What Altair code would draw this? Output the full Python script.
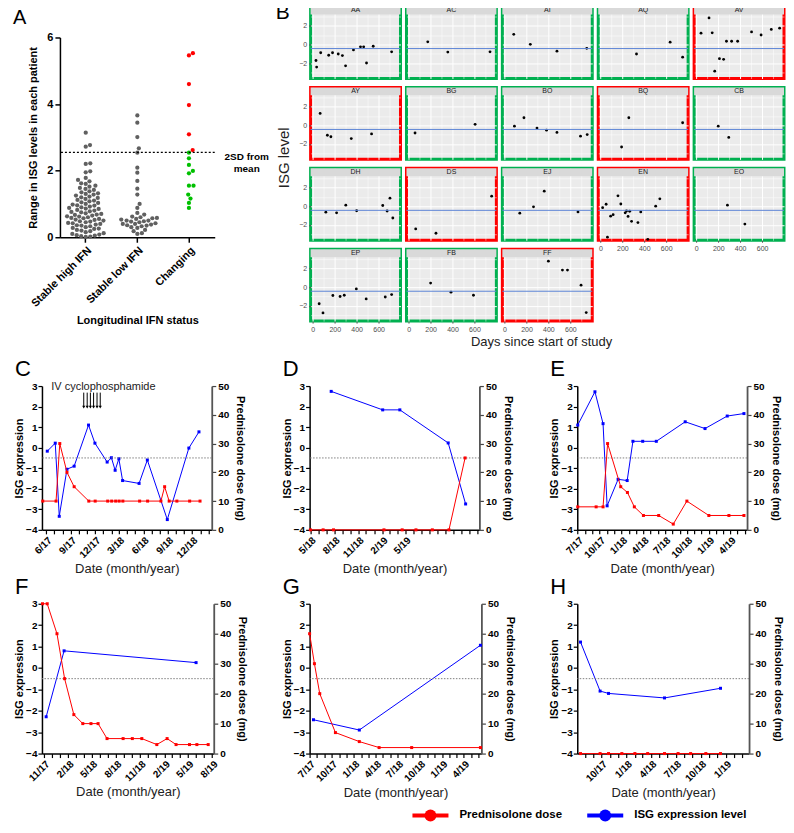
import altair as alt
import pandas as pd

FONT = "Liberation Sans"

# ---------------- Panel A data ----------------
A_groups = ["Stable high IFN", "Stable low IFN", "Changing"]
A_high = [3.14, 2.77, 2.72, 2.22, 2.2, 1.98, 1.95, 1.78, 1.72, 1.68, 1.62, 1.6, 1.55, 1.52,
          1.48, 1.45, 1.42, 1.38, 1.35, 1.32, 1.3, 1.28, 1.25, 1.22, 1.2, 1.18, 1.15, 1.12,
          1.1, 1.08, 1.05, 1.03, 1.0, 0.98, 0.96, 0.95, 0.92, 0.9, 0.88, 0.86, 0.85, 0.82,
          0.8, 0.78, 0.76, 0.75, 0.72, 0.7, 0.68, 0.67, 0.65, 0.63, 0.62, 0.6, 0.58, 0.57,
          0.55, 0.53, 0.52, 0.5, 0.48, 0.47, 0.45, 0.43, 0.42, 0.4, 0.38, 0.36, 0.35, 0.33,
          0.3, 0.28, 0.26, 0.25, 0.22, 0.2, 0.18, 0.15, 0.12, 0.1, 0.08, 0.06, 0.05, 0.03,
          0.02, 0.01]
A_low = [3.66, 3.44, 3.01, 2.67, 2.54, 2.09, 1.94, 1.69, 1.46, 1.28, 1.0, 0.88, 0.73,
         0.68, 0.62, 0.6, 0.58, 0.57, 0.55, 0.53, 0.5, 0.5, 0.48, 0.47, 0.45, 0.42, 0.4,
         0.4, 0.38, 0.36, 0.35, 0.33, 0.3, 0.28, 0.22, 0.18, 0.12, 0.1]
A_change_red = [5.53, 5.46, 4.6, 3.97, 3.09, 2.62]
A_change_green = [2.54, 2.37, 2.17, 1.99, 1.92, 1.55, 1.55, 1.28, 1.16, 1.03, 0.88]
A_sd2 = 2.55
A_sd2_label = "2SD from\nmean"

# ---------------- Panel B data ----------------
AA_days = [29, 35, 72, 145, 180, 232, 270, 299, 371, 435, 464, 490, 551, 719]
AA_isg = [-1.73, -2.43, -0.9, -1.17, -0.9, -1.03, -1.2, -2.3, -0.6, -0.27, -0.27, -2.0, -0.2, -0.8]
AC_days = [174, 357, 742]
AC_isg = [0.27, -0.83, -0.8]
AI_days = [84, 235, 478, 750]
AI_isg = [1.07, 0.0, -0.73, -0.43]
AQ_days = [329, 636, 750]
AQ_isg = [-1.03, 0.23, -1.37]
AV_days = [43, 116, 145, 168, 211, 249, 275, 322, 377, 504, 591, 684, 760]
AV_isg = [1.2, 2.83, 1.23, -2.87, -1.53, -1.6, 0.33, 0.33, 0.33, 1.33, 1.0, 1.6, 1.73]
AY_days = [67, 133, 165, 351, 536]
AY_isg = [1.27, -1.07, -1.23, -1.43, -0.93]
BG_days = [58, 606]
BG_isg = [-0.83, 0.1]
BO_days = [90, 177, 296, 383, 478, 693, 754]
BO_isg = [-0.1, 0.8, -0.3, -0.53, -0.77, -1.17, -1.0]
BQ_days = [193, 259, 750]
BQ_isg = [-2.33, 0.8, 0.27]
CB_days = [200, 296]
CB_isg = [-0.1, -1.3]
DH_days = [119, 217, 301, 400, 638, 678, 704, 730]
DH_isg = [-0.65, -0.72, 0.1, -0.49, 0.07, -0.52, 0.85, -1.27]
DS_days = [64, 249, 757]
DS_isg = [-2.44, -2.9, 1.07]
EJ_days = [139, 264, 362, 670]
EJ_isg = [-0.75, -0.07, 1.6, -0.62]
EN_days = [20, 52, 64, 93, 116, 160, 186, 226, 238, 252, 267, 284, 342, 368, 432, 504, 542]
EN_isg = [-0.16, 0.2, -3.32, -1.07, -0.91, 1.1, 0.23, -0.72, -0.52, -1.1, -0.55, -1.63,
          -1.76, -0.62, -3.55, 0.0, 0.78]
EO_days = [284, 443]
EO_isg = [0.1, -1.92]
EP_days = [58, 93, 183, 249, 287, 397, 487, 661, 719]
EP_isg = [-1.79, -2.77, -0.91, -1.01, -0.88, -0.2, -1.27, -1.07, -0.81]
FB_days = [200, 386, 591]
FB_isg = [0.42, -0.55, -0.88]
FF_days = [400, 528, 574, 698, 745]
FF_isg = [2.77, 1.82, 1.82, 0.2, -2.74]
B_changing = ["AV", "AY", "BQ", "DS", "EN", "FF"]
B_columns = [["AA", "AY", "DH", "EP"], ["AC", "BG", "DS", "FB"], ["AI", "BO", "EJ", "FF"],
             ["AQ", "BQ", "EN"], ["AV", "CB", "EO"]]
B_ref = -0.45

# ---------------- Panels C-H data ----------------
C_isg_dates = ["2017-06-05", "2017-07-05", "2017-07-20", "2017-08-18", "2017-09-14", "2017-11-07",
               "2017-12-01", "2018-01-16", "2018-02-01", "2018-02-15", "2018-03-01", "2018-03-15",
               "2018-05-16", "2018-06-16", "2018-08-30", "2018-11-19", "2018-12-27"]
C_isg = [-0.17, 0.22, -3.34, -1.05, -0.9, 1.1, 0.22, -0.7, -0.49, -1.1, -0.54, -1.6, -1.74,
         -0.6, -3.5, -0.02, 0.77]
C_pred_dates = ["2017-05-19", "2017-07-08", "2017-07-22", "2017-08-18", "2017-09-14", "2017-11-08",
                "2017-12-02", "2018-01-18", "2018-02-02", "2018-02-17", "2018-03-02", "2018-03-16",
                "2018-05-18", "2018-06-17", "2018-08-06", "2018-08-20", "2018-09-06", "2018-10-05",
                "2018-11-22", "2018-12-31"]
C_pred = [10, 10, 30, 20, 15, 10, 10, 10, 10, 10, 10, 10, 10, 10, 10, 15, 10, 10, 10, 10]
C_domain = ["2017-05-16", "2019-02-13"]
C_labels = ["6/17", "9/17", "12/17", "3/18", "6/18", "9/18", "12/18"]
C_cyclo_dates = ["2017-10-20", "2017-11-02", "2017-11-14", "2017-11-26", "2017-12-09", "2017-12-21"]
C_cyclo_label = ["IV cyclophosphamide"]
C_cyclo_label_date = ["2018-01-02"]

D_isg_dates = ["2018-07-20", "2019-02-03", "2019-04-10", "2019-10-13", "2019-12-19"]
D_isg = [2.74, 1.84, 1.84, 0.23, -2.74]
D_pred_dates = ["2018-05-01", "2018-06-19", "2018-07-29", "2019-02-08", "2019-04-19",
                "2019-06-11", "2019-08-13", "2019-10-16", "2019-12-17"]
D_pred = [0, 0, 0, 0, 0, 0, 0, 0, 25]
D_domain = ["2018-04-28", "2020-02-10"]
D_labels = ["5/18", "8/18", "11/18", "2/19", "5/19"]

E_isg_dates = ["2017-07-01", "2017-09-11", "2017-10-15", "2017-11-01", "2017-12-17", "2018-01-24",
               "2018-02-17", "2018-03-30", "2018-05-26", "2018-09-24", "2018-12-16", "2019-03-19",
               "2019-05-28"]
E_isg = [1.1, 2.72, 1.17, -2.83, -1.54, -1.6, 0.31, 0.31, 0.31, 1.26, 0.93, 1.54, 1.66]
E_pred_dates = ["2017-07-01", "2017-09-16", "2017-10-15", "2017-11-03", "2017-12-28", "2018-01-25",
                "2018-02-23", "2018-04-02", "2018-06-05", "2018-08-05", "2018-10-01", "2019-01-01",
                "2019-03-26", "2019-05-28"]
E_pred = [8, 8, 8, 30, 15, 13, 8, 5, 5, 2, 10, 5, 5, 5]
E_domain = ["2017-06-29", "2019-06-10"]
E_labels = ["7/17", "10/17", "1/18", "4/18", "7/18", "10/18", "1/19", "4/19"]

F_isg_dates = ["2017-11-09", "2018-01-16", "2019-06-01"]
F_isg = [-2.28, 0.8, 0.25]
F_pred_dates = ["2017-10-26", "2017-11-13", "2017-12-20", "2018-01-18", "2018-02-22", "2018-03-28",
                "2018-04-28", "2018-05-25", "2018-06-28", "2018-08-28", "2018-10-02", "2018-11-07",
                "2019-01-03", "2019-02-11", "2019-03-17", "2019-05-07", "2019-06-04", "2019-07-17"]
F_pred = [50, 50, 40, 25, 13, 10, 10, 10, 5, 5, 5, 5, 3, 5, 3, 3, 3, 3]
F_domain = ["2017-10-24", "2019-08-07"]
F_labels = ["11/17", "2/18", "5/18", "8/18", "11/18", "2/19", "5/19", "8/19"]

G_isg_dates = ["2017-07-17", "2018-01-23", "2019-06-09"]
G_isg = [-2.42, -2.9, 1.06]
G_pred_dates = ["2017-07-01", "2017-07-21", "2017-08-12", "2017-10-16", "2018-01-23", "2018-04-15",
                "2018-08-28", "2019-06-09"]
G_pred = [40, 30, 20, 7, 4, 2, 2, 2]
G_domain = ["2017-07-01", "2019-06-13"]
G_labels = ["7/17", "10/17", "1/18", "4/18", "7/18", "10/18", "1/19", "4/19"]

H_isg_dates = ["2017-07-16", "2017-09-26", "2017-10-27", "2018-05-21", "2018-12-13"]
H_isg = [1.21, -1.08, -1.19, -1.4, -0.95]
H_pred_dates = ["2017-07-16", "2017-09-26", "2017-10-27", "2017-12-15", "2018-02-01", "2018-03-20",
                "2018-05-21", "2018-07-10", "2018-08-25", "2018-10-20", "2018-12-13"]
H_pred = [0, 0, 0, 0, 0, 0, 0, 0, 0, 0, 0]
H_domain = ["2017-07-04", "2019-03-28"]
H_labels = ["10/17", "1/18", "4/18", "7/18", "10/18", "1/19"]

ISG_ref = -0.5
legend_series = ["Prednisolone dose", "ISG expression level"]
legend_colors = ["#FF0000", "#0000FF"]

RED = "#FF0000"
BLUE = "#0000FF"
GREEN = "#00C000"


def spacer():
    return alt.Chart(pd.DataFrame({"z": [0]})).mark_point(opacity=0, size=1).encode(
        x=alt.value(0), y=alt.value(0)).properties(width=1, height=1)


# ================= Panel A =================
def swarm(values, ppu, diam):
    order = sorted(range(len(values)), key=lambda i: values[i])
    placed = []
    out = [0.0] * len(values)
    for i in order:
        y = values[i] * ppu
        cands = [0.0]
        for (px, py) in placed:
            dy = y - py
            if abs(dy) < diam:
                dx = (diam ** 2 - dy ** 2) ** 0.5
                cands += [px + dx, px - dx]
        cands.sort(key=lambda c: (abs(c), -c))
        for c in cands:
            if all((c - px) ** 2 + (y - py) ** 2 >= diam ** 2 - 1e-6 for px, py in placed):
                out[i] = c
                placed.append((c, y))
                break
    return out


WA, HA = 155, 200
ppu = HA / 6.0
rows = []
for g, vals, cols in [
    (A_groups[0], A_high, ["gray"] * len(A_high)),
    (A_groups[1], A_low, ["gray"] * len(A_low)),
    (A_groups[2], A_change_red + A_change_green,
     ["red"] * len(A_change_red) + ["green"] * len(A_change_green)),
]:
    offs = swarm(vals, ppu, 4.6)
    for v, c, o in zip(vals, cols, offs):
        rows.append({"group": g, "value": v, "col": c, "off": o})
dfA = pd.DataFrame(rows)

xA = alt.X("group:N", sort=A_groups,
           scale=alt.Scale(domain=A_groups, paddingInner=0, paddingOuter=0),
           axis=alt.Axis(title="Longitudinal IFN status", labelAngle=-45, labelFontSize=11,
                         labelFontWeight="bold", titleFontSize=11, titleFontWeight="bold",
                         domainColor="black", domainWidth=1.5, tickColor="black", tickWidth=1.5,
                         tickSize=5, labelColor="black", titleColor="black", titlePadding=6))
yA_scale = alt.Scale(domain=[0, 6], nice=False)
yA_axis = alt.Axis(values=[0, 2, 4, 6], title="Range in ISG levels in each patient",
                   labelFontSize=11, labelFontWeight="bold", titleFontSize=11,
                   titleFontWeight="bold", domainColor="black", domainWidth=1.5,
                   tickColor="black", tickWidth=1.5, tickSize=5, grid=False,
                   labelColor="black", titleColor="black", titlePadding=8,
                   labelOverlap=False)
ptsA = alt.Chart(dfA).mark_circle(size=18, opacity=1).encode(
    x=xA, y=alt.Y("value:Q", scale=yA_scale, axis=yA_axis),
    xOffset=alt.XOffset("off:Q", scale=alt.Scale(domain=[-WA / 6.0, WA / 6.0])),
    color=alt.Color("col:N", scale=alt.Scale(domain=["gray", "red", "green"],
                                             range=["#606060", RED, GREEN]), legend=None),
)
ruleA = alt.Chart(pd.DataFrame({"value": [A_sd2]})).mark_rule(
    color="black", strokeDash=[2, 2], strokeWidth=1.2).encode(
    y=alt.Y("value:Q", scale=yA_scale, axis=yA_axis))
textA = alt.Chart(pd.DataFrame({"value": [A_sd2], "t": [A_sd2_label]})).mark_text(
    lineBreak="\n", align="center", baseline="middle", fontWeight="bold", fontSize=10,
    dy=5, color="black").encode(y=alt.Y("value:Q", scale=yA_scale, axis=yA_axis),
                                x=alt.value(WA + 32), text="t:N")
chartA = alt.layer(ptsA, ruleA, textA).properties(
    width=WA, height=HA,
    title=alt.TitleParams("A", anchor="start", frame="group", dx=-47, fontSize=20,
                          fontWeight="normal", offset=4, color="black"))
A_stack = alt.concat(spacer(), chartA, columns=1, spacing=0)
A_cell = alt.concat(spacer(), A_stack, columns=2, spacing=0)


# ================= Panel B =================
B_data = {
    "AA": (AA_days, AA_isg), "AC": (AC_days, AC_isg), "AI": (AI_days, AI_isg),
    "AQ": (AQ_days, AQ_isg), "AV": (AV_days, AV_isg), "AY": (AY_days, AY_isg),
    "BG": (BG_days, BG_isg), "BO": (BO_days, BO_isg), "BQ": (BQ_days, BQ_isg),
    "CB": (CB_days, CB_isg), "DH": (DH_days, DH_isg), "DS": (DS_days, DS_isg),
    "EJ": (EJ_days, EJ_isg), "EN": (EN_days, EN_isg), "EO": (EO_days, EO_isg),
    "EP": (EP_days, EP_isg), "FB": (FB_days, FB_isg), "FF": (FF_days, FF_isg),
}
WB, HB = 90, 72
B_VSP = 5
B_HSP = 2
B_YTOP = 3.2
B_YDOM = [-3.65, 4.05]
B_XDOM = [-20, 800]


def b_panel(name, show_y, show_x):
    days, vals = B_data[name]
    df = pd.DataFrame({"day": days, "isg": vals})
    border = RED if name in B_changing else "#00B050"
    xaxis = alt.Axis(values=list(range(0, 800, 100)),
                     labelExpr="datum.value % 200 === 0 ? datum.label : ''",
                     labels=show_x, ticks=show_x, domain=False, grid=True, gridColor="white",
                     gridWidth={"condition": {"test": "datum.value % 200 === 0", "value": 1.0},
                                "value": 0.5},
                     tickColor={"condition": {"test": "datum.value % 200 === 0", "value": "#555555"},
                                "value": "transparent"},
                     tickSize=2, title=None, labelFontSize=7, labelColor="#4D4D4D",
                     labelPadding=2, labelFlush=False, labelOverlap=False)
    yaxis = alt.Axis(values=[-3, -2, -1, 0, 1, 2, 3],
                     labelExpr="datum.value % 2 === 0 ? datum.label : ''",
                     labels=show_y, ticks=show_y, domain=False, grid=True, gridColor="white",
                     gridWidth={"condition": {"test": "datum.value % 2 === 0", "value": 1.0},
                                "value": 0.5},
                     tickColor={"condition": {"test": "datum.value % 2 === 0", "value": "#555555"},
                                "value": "transparent"},
                     tickSize=2, title=None, labelFontSize=7, labelColor="#4D4D4D",
                     labelPadding=2, labelOverlap=False)
    ysc = alt.Scale(domain=B_YDOM, nice=False)
    pts = alt.Chart(df).mark_circle(size=8, color="black", opacity=1).encode(
        x=alt.X("day:Q", scale=alt.Scale(domain=B_XDOM, nice=False, zero=False), axis=xaxis),
        y=alt.Y("isg:Q", scale=ysc, axis=yaxis),
    )
    one = alt.Chart(pd.DataFrame({"name": [name], "ref": [B_ref], "top": [B_YTOP],
                                  "top2": [B_YDOM[1]], "mid": [(B_YTOP + B_YDOM[1]) / 2]}))
    hline = one.mark_rule(color="#5E86D6", strokeWidth=1).encode(
        y=alt.Y("ref:Q", scale=ysc, axis=yaxis))
    strip = one.mark_rect(color="#D9D9D9").encode(
        x=alt.value(0), x2=alt.value(WB), y=alt.Y("top:Q", scale=ysc, axis=yaxis), y2="top2:Q")
    lab = one.mark_text(fontSize=7, color="#1A1A1A").encode(
        x=alt.value(WB / 2), y=alt.Y("mid:Q", scale=ysc, axis=yaxis), text="name:N")
    return alt.layer(pts, hline, strip, lab).properties(
        width=WB, height=HB,
        view=alt.ViewBackground(fill="#EBEBEB", stroke=border, strokeWidth=3))


b_cols = []
for ci, col in enumerate(B_columns):
    panels = [b_panel(n, ci == 0, ri == len(col) - 1) for ri, n in enumerate(col)]
    b_cols.append(alt.vconcat(*panels, spacing=B_VSP))
b_grid = alt.hconcat(*b_cols, spacing=B_HSP).properties(
    title=alt.TitleParams("Days since start of study", orient="bottom", fontSize=13,
                          fontWeight="normal", anchor="middle", offset=2, color="#222222"))
BH = 4 * HB + 3 * B_VSP
b_lab = alt.layer(
    alt.Chart(pd.DataFrame({"t": ["ISG level"]})).mark_text(
        angle=270, fontSize=15, color="#222222").encode(
        x=alt.value(12), y=alt.value(BH / 2), text="t:N"),
    alt.Chart(pd.DataFrame({"t": ["B"]})).mark_text(
        fontSize=21, baseline="top", color="black").encode(
        x=alt.value(11), y=alt.value(-5), text="t:N"),
).properties(width=24, height=BH)
b_block = alt.concat(b_lab, b_grid, columns=2, spacing=1)
top_row = alt.concat(A_cell, b_block, columns=2, spacing=2)


# ================= Panels C-H =================
def dt(s):
    y, m, d = s.split("-")
    return alt.DateTime(year=int(y), month=int(m), date=int(d))


def month_ticks(start, end):
    y, m, d = [int(p) for p in start.split("-")]
    ey, em, ed = [int(p) for p in end.split("-")]
    if d > 1:
        m += 1
        if m > 12:
            m, y = 1, y + 1
    out = []
    while (y, m) <= (ey, em):
        out.append(alt.DateTime(year=y, month=m, date=1))
        m += 1
        if m > 12:
            m, y = 1, y + 1
    return out


def dual(letter, isg_d, isg_v, pr_d, pr_v, dom, labels, W, H, extra=None):
    xscale = alt.Scale(domain=[dt(dom[0]), dt(dom[1])])
    fmt = "timeFormat(datum.value, '%-m/%y')"
    arr = "[" + ",".join("'%s'" % l for l in labels) + "]"
    xaxis = alt.Axis(values=month_ticks(dom[0], dom[1]),
                     labelExpr="indexof(%s, %s) >= 0 ? %s : ''" % (arr, fmt, fmt),
                     labelAngle=-45, labelFontWeight="bold", labelFontSize=10,
                     labelColor="black", labelOverlap=False, labelFlush=False,
                     labelBound=False, labelPadding=1, title="Date (month/year)",
                     titleFontSize=13, titleFontWeight="normal", titleColor="#222222",
                     titlePadding=3, tickSize=4, tickWidth=1.2, tickColor="black",
                     domainColor="black", domainWidth=1.5, grid=False)
    X = alt.X("date:T", scale=xscale, axis=xaxis)
    isg_df = pd.DataFrame({"date": [d + "T00:00:00" for d in isg_d], "v": isg_v})
    pr_df = pd.DataFrame({"date": [d + "T00:00:00" for d in pr_d], "p": pr_v})
    ylsc = alt.Scale(domain=[-4, 3], nice=False)
    ylax = alt.Axis(values=list(range(-4, 4)), title="ISG expression",
                    labelFontWeight="bold", labelFontSize=10, labelColor="black",
                    titleFontWeight="bold", titleFontSize=11, titleColor="black",
                    titlePadding=1, labelPadding=1, tickSize=4, tickWidth=1.2,
                    tickColor="black", domainColor="black", domainWidth=1.5,
                    grid=False, labelOverlap=False)
    yl = alt.Y("v:Q", scale=ylsc, axis=ylax)
    yr = alt.Y("p:Q", scale=alt.Scale(domain=[0, 50], nice=False),
               axis=alt.Axis(orient="right", values=[0, 10, 20, 30, 40, 50],
                             title="Prednisolone dose (mg)", labelFontWeight="bold",
                             labelFontSize=10, labelColor="black", titleFontWeight="bold",
                             titleFontSize=11, titleColor="black", titlePadding=6,
                             tickSize=4, tickWidth=1.2, tickColor="#444444",
                             domainColor="#555555", domainWidth=1.8, grid=False,
                             labelOverlap=False))
    ib = alt.Chart(isg_df)
    isg_layers = [
        ib.mark_line(color=BLUE, strokeWidth=1).encode(x=X, y=yl),
        ib.mark_point(shape="square", filled=True, size=9, color=BLUE, opacity=1).encode(x=X, y=yl),
        alt.Chart(pd.DataFrame({"v": [ISG_ref]})).mark_rule(
            color="#808080", strokeDash=[1.5, 1.5], strokeWidth=1).encode(y=yl),
    ]
    if extra is not None:
        isg_layers += extra(X, ylsc, ylax)
    pb = alt.Chart(pr_df)
    pr_layer = alt.layer(
        pb.mark_line(color=RED, strokeWidth=1).encode(x=X, y=yr),
        pb.mark_point(shape="square", filled=True, size=9, color=RED, opacity=1).encode(x=X, y=yr),
    )
    return alt.layer(alt.layer(*isg_layers), pr_layer).resolve_scale(y="independent").properties(
        width=W, height=H,
        title=alt.TitleParams(letter, anchor="start", frame="group", dx=-27, fontSize=22,
                              fontWeight="normal", offset=0, color="black"))


def cyclo(X, ylsc, ylax):
    n = len(C_cyclo_dates)
    cdf = pd.DataFrame({"date": [d + "T00:00:00" for d in C_cyclo_dates],
                        "v": [2.68] * n, "v2": [2.0] * n, "vh": [1.97] * n})
    tdf = pd.DataFrame({"date": [d + "T00:00:00" for d in C_cyclo_label_date],
                        "t": C_cyclo_label, "v": [2.97]})
    return [
        alt.Chart(cdf).mark_rule(color="black", strokeWidth=1).encode(
            x=X, y=alt.Y("v:Q", scale=ylsc, axis=ylax), y2="v2:Q"),
        alt.Chart(cdf).mark_point(shape="triangle-down", filled=True, size=10,
                                  color="black", opacity=1).encode(
            x=X, y=alt.Y("vh:Q", scale=ylsc, axis=ylax)),
        alt.Chart(tdf).mark_text(fontSize=11, color="#222222").encode(
            x=X, y=alt.Y("v:Q", scale=ylsc, axis=ylax), text="t:N"),
    ]


WM, HM = 170, 144
WBt, HBt = 172, 150
chC = dual("C", C_isg_dates, C_isg, C_pred_dates, C_pred, C_domain, C_labels, WM, HM, cyclo)
chD = dual("D", D_isg_dates, D_isg, D_pred_dates, D_pred, D_domain, D_labels, WM, HM)
chE = dual("E", E_isg_dates, E_isg, E_pred_dates, E_pred, E_domain, E_labels, WM, HM)
chF = dual("F", F_isg_dates, F_isg, F_pred_dates, F_pred, F_domain, F_labels, WBt, HBt)
chG = dual("G", G_isg_dates, G_isg, G_pred_dates, G_pred, G_domain, G_labels, WBt, HBt)
chH = dual("H", H_isg_dates, H_isg, H_pred_dates, H_pred, H_domain, H_labels, WBt, HBt)

C_cell = alt.concat(spacer(), chC, columns=2, spacing=0)
F_cell = alt.concat(spacer(), chF, columns=2, spacing=0)
mid_row = alt.concat(C_cell, chD, chE, columns=3, spacing=34)
bot_row = alt.concat(F_cell, chG, chH, columns=3, spacing=32)

# ================= Legend =================
leg_df = pd.DataFrame({"series": legend_series})
legX = alt.X("series:N", sort=legend_series,
             scale=alt.Scale(domain=legend_series, range=[419, 594], padding=0), axis=None)
leg_layers = []
for s, col in zip(legend_series, legend_colors):
    sub = alt.Chart(leg_df).transform_filter(alt.datum.series == s)
    leg_layers.append(sub.mark_point(shape="stroke", size=1300, strokeWidth=4, filled=False,
                                     opacity=1, color=col).encode(x=legX, y=alt.value(8)))
    leg_layers.append(sub.mark_circle(size=140, opacity=1, color=col).encode(
        x=legX, y=alt.value(8)))
leg_layers.append(alt.Chart(leg_df).mark_text(
    align="left", dx=29, fontWeight="bold", fontSize=11.5, color="black").encode(
    x=legX, y=alt.value(8), text="series:N"))
legend = alt.layer(*leg_layers).properties(width=640, height=16)

chart = alt.concat(
    top_row,
    alt.concat(mid_row, bot_row, columns=1, spacing=0),
    legend,
    columns=1,
    spacing=8,
).resolve_scale(
    x="independent", color="independent"
).properties(
    padding={"left": 3, "top": -7, "right": 0, "bottom": 0}
).configure(font=FONT).configure_view(stroke=None)

chart.save("out.html", embed_options={"renderer": "svg", "actions": False})
